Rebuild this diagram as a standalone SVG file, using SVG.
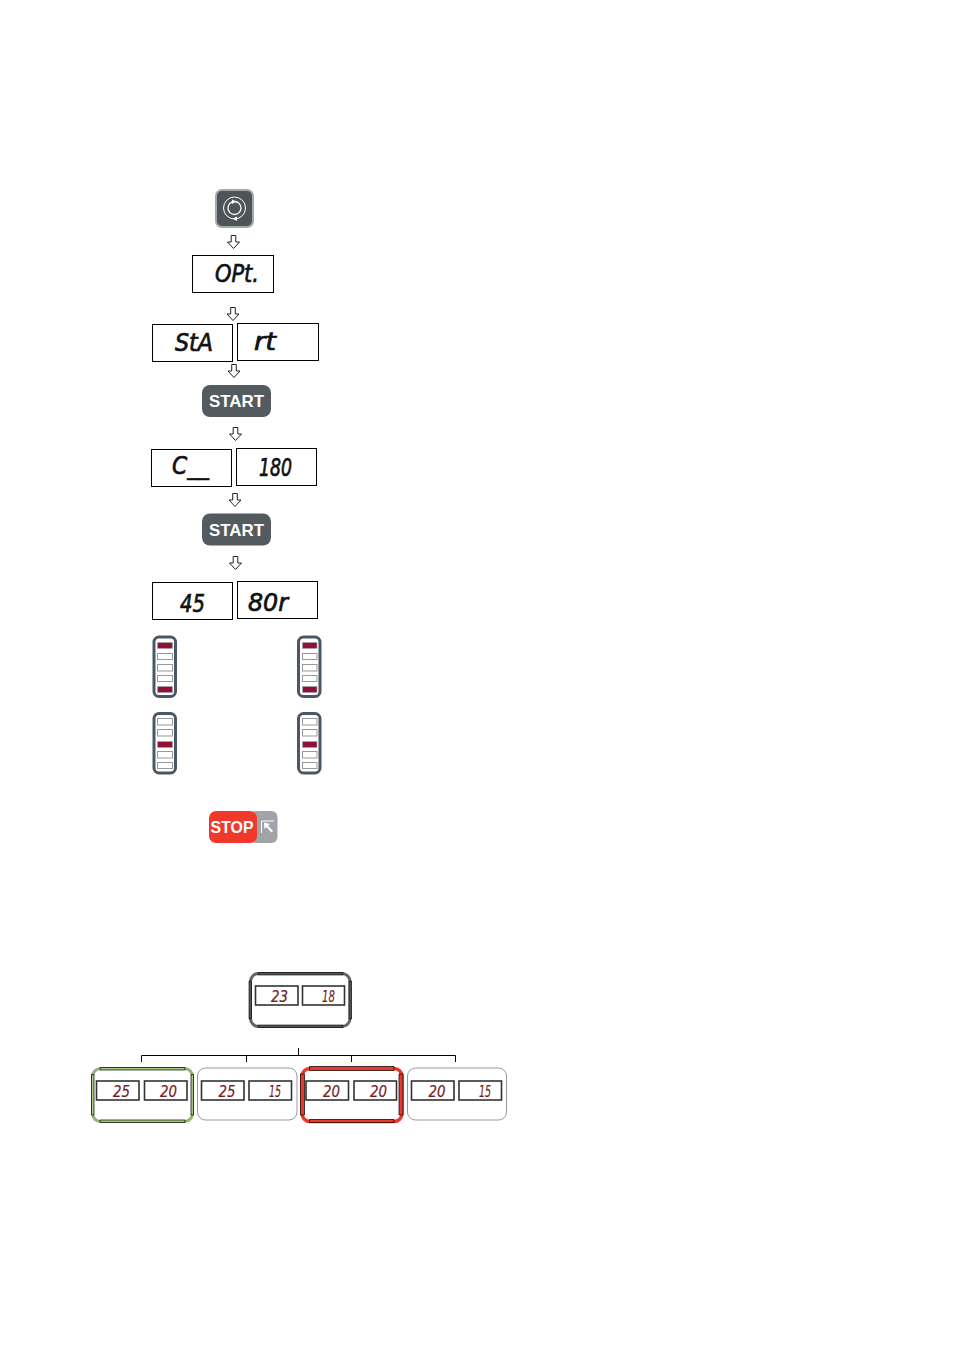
<svg xmlns="http://www.w3.org/2000/svg" width="954" height="1350" viewBox="0 0 954 1350">
<style>
.d{fill:#fff;stroke:#000;stroke-width:1}
.t{font-family:"DejaVu Sans",sans-serif;font-style:italic;font-size:24px;fill:#111;stroke:#111;stroke-width:.7}
.b{fill:#545b5f}
.bt{font-family:"Liberation Sans",sans-serif;font-weight:bold;font-size:16.500px;fill:#fff}
.bar{fill:#fff;stroke:#4a5866;stroke-width:3}
.c{fill:#fff;stroke:#999;stroke-width:1}
.on{fill:#8e1238;stroke:#a9a9a9;stroke-width:.6}
.i{fill:#fff;stroke:#333;stroke-width:1.6}
.s{font-family:"DejaVu Sans",sans-serif;font-style:italic;font-size:16px;fill:#7a1a1a;stroke:#5a1a1a;stroke-width:.2}
.w{fill:#fff;stroke:#999;stroke-width:1}
.l{fill:none;stroke:#000;stroke-width:1}
</style>
<defs>
<path id="ar" d="M-2.300,-6.500H2.300V0H6L0,6.500L-6,0H-2.300Z" fill="#fff" stroke="#222" stroke-width="1"/>
</defs>
<g id="connectors">
<use href="#ar" x="233.500" y="242"/>
<use href="#ar" x="233" y="314"/>
<use href="#ar" x="234" y="371"/>
<use href="#ar" x="235.500" y="434"/>
<use href="#ar" x="235" y="500"/>
<use href="#ar" x="235.500" y="563"/>
<path class="l" d="M298.500,1048V1055.500M141.500,1062V1055.500H455.500V1062M246.500,1055.500V1062M351.500,1055.500V1062"/>
</g>
<g id="rotate-button">
<rect x="216" y="190" width="37" height="37" rx="6" fill="#4e5559" stroke="#a3a8aa" stroke-width="2"/>
<circle cx="234.500" cy="208" r="11" fill="none" stroke="#fff" stroke-width="1"/>
<circle cx="234.500" cy="208" r="6.500" fill="none" stroke="#fff" stroke-width="1.300"/>
<path d="M232,199.500L236,201.500L232,204Z M237,216.500L233,218.500L237,221Z" fill="#fff"/>
</g>
<g id="disp-opt"><rect class="d" x="192.500" y="255.500" width="81" height="37"/><text class="t" x="215" y="282" textLength="44" lengthAdjust="spacingAndGlyphs">OPt.</text></g>
<g id="disp-sta"><rect class="d" x="152.500" y="324.500" width="80" height="37"/><text class="t" x="175" y="351" textLength="38" lengthAdjust="spacingAndGlyphs">StA</text></g>
<g id="disp-rt"><rect class="d" x="237.500" y="323.500" width="81" height="37"/><text class="t" x="254" y="350" textLength="22" lengthAdjust="spacingAndGlyphs">rt</text></g>
<g id="start-1"><rect class="b" x="202" y="385" width="69" height="32" rx="8"/><text class="bt" x="209" y="407" textLength="55" lengthAdjust="spacingAndGlyphs">START</text></g>
<g id="disp-c"><rect class="d" x="151.500" y="449.500" width="80" height="37"/><text class="t" x="172" y="474" textLength="37" lengthAdjust="spacingAndGlyphs">C__</text></g>
<g id="disp-180"><rect class="d" x="236.500" y="448.500" width="80" height="37"/><text class="t" x="259" y="476" textLength="33" lengthAdjust="spacingAndGlyphs">180</text></g>
<g id="start-2"><rect class="b" x="202" y="513.500" width="69" height="32" rx="8"/><text class="bt" x="209" y="535.500" textLength="55" lengthAdjust="spacingAndGlyphs">START</text></g>
<g id="disp-45"><rect class="d" x="152.500" y="582.500" width="80" height="37"/><text class="t" x="180" y="612" textLength="25" lengthAdjust="spacingAndGlyphs">45</text></g>
<g id="disp-80r"><rect class="d" x="237.500" y="581.500" width="80" height="37"/><text class="t" x="248" y="611" textLength="40" lengthAdjust="spacingAndGlyphs">80r</text></g>
<g id="bar-1"><rect class="bar" x="154" y="637" width="21.500" height="59.500" rx="5"/><rect class="on" x="157.500" y="642.500" width="15" height="6"/><rect class="c" x="157.500" y="653.500" width="15" height="6"/><rect class="c" x="157.500" y="664.500" width="15" height="6.500"/><rect class="c" x="157.500" y="675.500" width="15" height="6"/><rect class="on" x="157.500" y="686.500" width="15" height="6"/></g>
<g id="bar-2"><rect class="bar" x="298.500" y="637" width="21.500" height="59.500" rx="5"/><rect class="on" x="302.500" y="642.500" width="14.500" height="6"/><rect class="c" x="302.500" y="653.500" width="14.500" height="6"/><rect class="c" x="302.500" y="664.500" width="14.500" height="6.500"/><rect class="c" x="302.500" y="675.500" width="14.500" height="6"/><rect class="on" x="302.500" y="686.500" width="14.500" height="6"/></g>
<g id="bar-3"><rect class="bar" x="154" y="713.500" width="21.500" height="59.500" rx="5"/><rect class="c" x="157.500" y="718.500" width="15" height="6.500"/><rect class="c" x="157.500" y="729.500" width="15" height="6.500"/><rect class="on" x="157.500" y="741.500" width="15" height="6"/><rect class="c" x="157.500" y="751.500" width="15" height="6.500"/><rect class="c" x="157.500" y="762.500" width="15" height="6"/></g>
<g id="bar-4"><rect class="bar" x="298.500" y="713.500" width="21.500" height="59.500" rx="5"/><rect class="c" x="302.500" y="718.500" width="14.500" height="6.500"/><rect class="c" x="302.500" y="729.500" width="14.500" height="6.500"/><rect class="on" x="302.500" y="741.500" width="14.500" height="6"/><rect class="c" x="302.500" y="751.500" width="14.500" height="6.500"/><rect class="c" x="302.500" y="762.500" width="14.500" height="6"/></g>
<g id="stop">
<rect x="250" y="811" width="27.500" height="32" rx="6" fill="#a0a4a8"/>
<rect x="209" y="811" width="48" height="32" rx="7" fill="#f1392b"/>
<path d="M261.500,833V821H274" fill="none" stroke="#fff" stroke-width="1"/>
<path d="M264,822.500L270,824L268,825.500L273,831L271.500,832.500L266.500,827L264.500,829Z" fill="#fff"/>
<text class="bt" x="210.500" y="832.500" textLength="43" lengthAdjust="spacingAndGlyphs">STOP</text>
</g>
<g id="panel-top">
<rect x="250.500" y="973.500" width="99.500" height="53" rx="8" fill="#fff" stroke="#666" stroke-width="3"/>
<path d="M258,972.500H343V975H258ZM258,1025H343V1027.500H258ZM249,981H251.500V1019H249ZM349,981H351.500V1019H349Z" fill="#555" stroke="#000" stroke-width=".6"/>
<rect class="i" x="255.500" y="986" width="42.500" height="19"/><text class="s" x="271" y="1001.500" textLength="17" lengthAdjust="spacingAndGlyphs">23</text>
<rect class="i" x="302.500" y="986" width="42" height="19"/><text class="s" x="322" y="1001.500" textLength="13" lengthAdjust="spacingAndGlyphs">18</text>
</g>
<g id="panel-green">
<rect x="92.500" y="1068.500" width="100" height="53" rx="8" fill="#fff" stroke="#8cb870" stroke-width="3"/>
<path d="M100,1067.500H185V1070H100ZM100,1120H185V1122.500H100ZM91.500,1074.500H94V1115H91.500ZM191,1074.500H193.500V1115H191Z" fill="#a3cc80" stroke="#000" stroke-width=".7"/>
<rect class="i" x="96.500" y="1081" width="42.500" height="19"/><text class="s" x="113" y="1096.500" textLength="17" lengthAdjust="spacingAndGlyphs">25</text>
<rect class="i" x="144.500" y="1081" width="42.500" height="19"/><text class="s" x="160" y="1096.500" textLength="17" lengthAdjust="spacingAndGlyphs">20</text>
</g>
<g id="panel-grey-1">
<rect class="w" x="197.500" y="1068" width="99.500" height="52" rx="8"/>
<rect class="i" x="201.500" y="1081" width="42.500" height="19"/><text class="s" x="218.500" y="1096.500" textLength="17" lengthAdjust="spacingAndGlyphs">25</text>
<rect class="i" x="249" y="1081" width="42.500" height="19"/><text class="s" x="269" y="1096.500" textLength="12" lengthAdjust="spacingAndGlyphs">15</text>
</g>
<g id="panel-red">
<rect x="302" y="1068.500" width="100" height="53" rx="8" fill="#fff" stroke="#e8392a" stroke-width="3.500"/>
<path d="M309.500,1066.500H394V1070.500H309.500ZM309.500,1119.500H394V1122.500H309.500ZM300.500,1074H304.500V1115H300.500ZM399,1074H403V1115H399Z" fill="#e8392a" stroke="#000" stroke-width=".7"/>
<rect class="i" x="306" y="1081" width="42.500" height="19"/><text class="s" x="323" y="1096.500" textLength="17" lengthAdjust="spacingAndGlyphs">20</text>
<rect class="i" x="354" y="1081" width="42.500" height="19"/><text class="s" x="370" y="1096.500" textLength="17" lengthAdjust="spacingAndGlyphs">20</text>
</g>
<g id="panel-grey-2">
<rect class="w" x="407.500" y="1068" width="99" height="52" rx="8"/>
<rect class="i" x="411.500" y="1081" width="42.500" height="19"/><text class="s" x="428.500" y="1096.500" textLength="17" lengthAdjust="spacingAndGlyphs">20</text>
<rect class="i" x="459" y="1081" width="42.500" height="19"/><text class="s" x="479" y="1096.500" textLength="12" lengthAdjust="spacingAndGlyphs">15</text>
</g>
</svg>
